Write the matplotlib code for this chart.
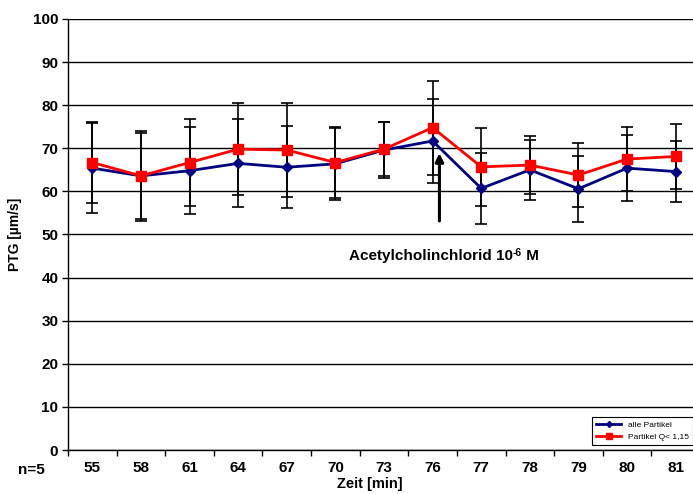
import numpy as np
import matplotlib
matplotlib.use("Agg")
import matplotlib.pyplot as plt

plt.rcParams['font.family'] = ['Liberation Sans', 'DejaVu Sans']

# Daten
zeit = ['55', '58', '61', '64', '67', '70', '73', '76', '77', '78', '79', '80', '81']
alle = [65.4, 63.6, 64.8, 66.5, 65.6, 66.4, 69.6, 71.7, 60.7, 65.0, 60.6, 65.4, 64.6]
alle_err = [10.5, 10.5, 10.1, 10.2, 9.5, 8.3, 6.6, 9.7, 8.3, 7.0, 7.6, 7.6, 7.0]
partikel = [66.7, 63.6, 66.7, 69.8, 69.6, 66.7, 69.8, 74.8, 65.7, 66.1, 63.8, 67.5, 68.1]
partikel_err = [9.3, 10.0, 10.0, 10.7, 10.8, 8.2, 6.2, 10.9, 9.1, 6.8, 7.5, 7.5, 7.5]

fig = plt.figure(figsize=(6.93, 4.94), dpi=100)
# Achse reicht rechts etwas über den Bildrand hinaus
ax = fig.add_axes([68 / 693, 44 / 494, 632 / 693, 431 / 494])

x = np.arange(len(zeit))

ax.errorbar(x, alle, yerr=alle_err, fmt='none', ecolor='black', elinewidth=1.2,
            capsize=4, capthick=1.2, zorder=2)
ax.errorbar(x, partikel, yerr=partikel_err, fmt='none', ecolor='black', elinewidth=1.2,
            capsize=4, capthick=1.2, zorder=2)
ax.plot(x, alle, color='#000080', marker='D', markersize=5, linewidth=2,
        label='alle Partikel', zorder=3)
ax.plot(x, partikel, color='#FF0000', marker='s', markersize=7, linewidth=2,
        label='Partikel Q< 1,15', zorder=4)

ax.set_xlim(-0.5, len(zeit) - 0.5)
ax.set_ylim(0, 100)
ax.set_yticks(np.arange(0, 101, 10))
ax.set_yticklabels([str(v) for v in range(0, 101, 10)], fontweight='bold', fontsize=11)
ax.set_xticks(x)
ax.set_xticklabels(zeit, fontweight='bold', fontsize=11)
ax.set_xticks(np.arange(-0.5, len(zeit), 1), minor=True)
ax.tick_params(axis='x', which='major', length=0, pad=8)
ax.tick_params(axis='x', which='minor', length=4, width=1, direction='out')
ax.tick_params(axis='y', length=4, width=1, direction='out', pad=3)

ax.grid(axis='y', color='black', linewidth=1)
ax.set_axisbelow(True)
for s in ['top', 'right']:
    ax.spines[s].set_visible(False)
ax.spines['left'].set_linewidth(1)
ax.spines['bottom'].set_linewidth(1)

ax.set_ylabel('PTG [µm/s]', fontweight='bold', fontsize=10, labelpad=8)
ax.set_xlabel('Zeit [min]', fontweight='bold', fontsize=10.5)
ax.xaxis.set_label_coords((370 - 68) / 632, -0.063)

fig.text(18 / 693, 1 - 470 / 494, 'n=5', fontweight='bold', fontsize=11, va='center')

# Pfeil und Beschriftung
ax.annotate('', xy=(7.14, 69.5), xytext=(7.14, 52.5),
            arrowprops=dict(arrowstyle='-|>', color='black', lw=2.2, mutation_scale=12))
t1 = ax.text(5.27, 45, 'Acetylcholinchlorid 10', fontweight='bold', fontsize=11,
             va='center', ha='left')
fig.canvas.draw()
bb = t1.get_window_extent()
x0, y0 = ax.transData.inverted().transform((bb.x1 + 0.5, bb.y1 + 1))
t2 = ax.text(x0, y0, '-6', fontweight='bold', fontsize=7.5, va='top', ha='left')
fig.canvas.draw()
bb2 = t2.get_window_extent()
x1, _ = ax.transData.inverted().transform((bb2.x1, bb2.y1))
ax.text(x1, 45, ' M', fontweight='bold', fontsize=11, va='center', ha='left')

leg = ax.legend(loc='lower right', bbox_to_anchor=((693 - 68) / 632, 0.012), fontsize=6,
                frameon=True, fancybox=False, edgecolor='black', framealpha=1,
                handlelength=3, borderpad=0.5, labelspacing=0.5, markerscale=0.6,
                borderaxespad=0)
leg.get_frame().set_linewidth(0.8)

fig.savefig('out.png', dpi=100)
